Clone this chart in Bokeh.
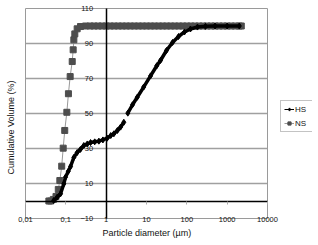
import math
from bokeh.plotting import figure
from bokeh.models import Range1d, FixedTicker, Legend, LegendItem, LinearAxis, LogAxis, Title
from bokeh.embed import file_html
from bokeh.resources import INLINE

nan = float("nan")

# ---- data ----
x_ticks = [0.01, 0.1, 1, 10, 100, 1000, 10000]
x_tick_labels = ["0,01", "0,1", "1", "10", "100", "1000", "10000"]
y_ticks = [-10, 10, 30, 50, 70, 90, 110]
grid_y = [10, 30, 50, 70, 90]

hs_x = [0.05, 0.061, 0.074, 0.089, 0.098, 0.115, 0.131, 0.158, 0.191, 0.23, 0.279,
        0.34, 0.41, 0.52, 0.66, 0.83, 1.06, 1.3, 1.55, 1.9, 2.27, 2.74, nan,
        3.44, 4.5, 5.9, 8.5, 12.6, 18, 22.2, 31.3, 44.2, 62.2, 87.5, 123, 184, 290,
        500, 1000, 2000]
hs_y = [0.3, 2.2, 4.1, 9.8, 13.6, 17, 19.7, 24.9, 27.7, 29.5, 31.7,
        32.6, 33.4, 33.8, 34.2, 34.9, 35.9, 37.4, 38.4, 40.3, 42.2, 45, nan,
        50.2, 55, 59.3, 65.1, 71.5, 77.3, 80.3, 86, 90.6, 94, 96.6, 98.3, 99.4, 99.8,
        100, 100, 100]

ns_x = [0.038, 0.042, 0.049, 0.057, 0.065, 0.071, 0.079, 0.086, 0.094, 0.106, 0.116,
        0.128, 0.144, 0.152, 0.158, 0.167, 0.191, 0.231, 0.308,
        0.4, 0.5, 0.63, 0.79, 1.0, 1.26, 1.58, 2.0, 2.51, 3.16, 3.98, 5.01, 6.31,
        7.94, 10, 12.6, 15.8, 20, 25.1, 31.6, 39.8, 50.1, 63.1, 79.4, 100, 126,
        158, 200, 251, 316, 398, 501, 631, 794, 1000, 1259, 1585, 1995, 2239]
ns_y = [0, 0, 0.9, 2.6, 6.6, 11.7, 19.9, 30.2, 40.3, 50.7, 61.3,
        71.1, 79.7, 86.4, 92.1, 95.5, 98.4, 99.7, 100,
        100, 100, 100, 100, 100, 100, 100, 100, 100, 100, 100, 100, 100,
        100, 100, 100, 100, 100, 100, 100, 100, 100, 100, 100, 100, 100,
        100, 100, 100, 100, 100, 100, 100, 100, 100, 100, 100, 100, 100]

FONT = "Liberation Sans"

# layout (pixels): plot area 25..267 x 8..218, frame a little larger
X_MIN, X_MAX = x_ticks[0], x_ticks[-1]
Y_MIN, Y_MAX = y_ticks[0], y_ticks[-1]
AREA_W, AREA_H = 242, 210
PAD_L, PAD_R, PAD_T, PAD_B = 3, 45, 6, 6
px_dec = AREA_W / math.log10(X_MAX / X_MIN)
px_unit = AREA_H / (Y_MAX - Y_MIN)
x_start = 10 ** (math.log10(X_MIN) - PAD_L / px_dec)
x_end = 10 ** (math.log10(X_MAX) + PAD_R / px_dec)
y_start = Y_MIN - PAD_B / px_unit
y_end = Y_MAX + PAD_T / px_unit

p = figure(width=318, height=245, x_axis_type="log", y_axis_location=None,
           x_range=Range1d(x_start, x_end), y_range=Range1d(y_start, y_end),
           output_backend="svg", toolbar_location=None,
           min_border_left=25 - PAD_L, min_border_right=318 - 267 - PAD_R,
           min_border_top=8 - PAD_T, min_border_bottom=27 - PAD_B)
p.background_fill_color = "white"
p.border_fill_color = "white"
p.outline_line_color = None
p.xgrid.visible = False
p.ygrid.visible = False

# plot-area gridlines and border
p.segment(x0=[X_MIN] * len(grid_y), x1=[X_MAX] * len(grid_y), y0=grid_y, y1=grid_y,
          line_color="#a0a0a0", line_width=1.5)
p.quad(left=[X_MIN], right=[X_MAX], bottom=[Y_MIN], top=[Y_MAX],
       fill_color=None, line_color="#9a9a9a", line_width=1)

# x axis: labels only, at the bottom of the plot area
xa = p.xaxis[0]
xa.ticker = FixedTicker(ticks=x_ticks)
xa.major_label_overrides = {t: l for t, l in zip(x_ticks, x_tick_labels)}
xa.axis_line_color = None
xa.major_tick_line_color = None
xa.minor_tick_line_color = None
xa.major_label_standoff = -14
xa.major_label_text_font = FONT
xa.major_label_text_font_size = "7.5px"
xa.major_label_text_color = "#111111"

p.add_layout(Title(text="Particle diameter (µm)", align="left", offset=80,
                   text_font=FONT, text_font_size="9px", text_font_style="normal",
                   text_color="#111111", standoff=2), "below")
p.add_layout(Title(text="Cumulative Volume (%)", align="left", offset=50,
                   vertical_align="top",
                   text_font=FONT, text_font_size="9px", text_font_style="normal",
                   text_color="#111111", standoff=9), "left")

# crossing axes: y axis at x=1 (labels on its left), x axis at y=0
yc = LinearAxis(fixed_location=1, ticker=FixedTicker(ticks=y_ticks), bounds=(Y_MIN, Y_MAX))
yc.axis_line_color = "black"
yc.axis_line_width = 1.5
yc.major_tick_line_color = None
yc.minor_tick_line_color = None
yc.major_label_standoff = 7
yc.major_label_text_font = FONT
yc.major_label_text_font_size = "7.5px"
yc.major_label_text_color = "#111111"
p.add_layout(yc, "left")

xc = LogAxis(fixed_location=0, ticker=FixedTicker(ticks=x_ticks), bounds=(X_MIN, X_MAX))
xc.axis_line_color = "black"
xc.axis_line_width = 1.5
xc.major_tick_line_color = "#aaaaaa"
xc.major_tick_in = 0
xc.major_tick_out = 3
xc.minor_tick_line_color = None
xc.major_label_text_font_size = "0px"
xc.major_label_text_alpha = 0
p.add_layout(xc, "below")

# NS series
ns_line = p.line(ns_x, ns_y, line_color="#999999", line_width=1)
ns_pts = p.scatter(ns_x, ns_y, marker="square", size=6, fill_color="#4d4d4d",
                   line_color="#4d4d4d")

# HS series
hs_thin = p.line(hs_x, hs_y, line_color="black", line_width=1)
hs_line = p.line(hs_x, hs_y, line_color="black", line_width=3.5)
hs_pts = p.scatter(hs_x, hs_y, marker="diamond", size=6, fill_color="black",
                   line_color="black")

legend = Legend(items=[LegendItem(label="HS", renderers=[hs_thin, hs_pts]),
                       LegendItem(label="NS", renderers=[ns_line, ns_pts])],
                location=(280 - (25 - PAD_L), (218 + PAD_B) - 132))
legend.label_text_font = FONT
legend.label_text_font_size = "8px"
legend.label_text_color = "#111111"
legend.glyph_width = 10
legend.glyph_height = 8
legend.label_standoff = 1
legend.padding = 3
legend.spacing = 4
legend.margin = 0
legend.border_line_color = "#888888"
legend.border_line_width = 1
legend.label_height = 10
p.add_layout(legend)

open("out.html", "w").write(file_html(p, INLINE))
